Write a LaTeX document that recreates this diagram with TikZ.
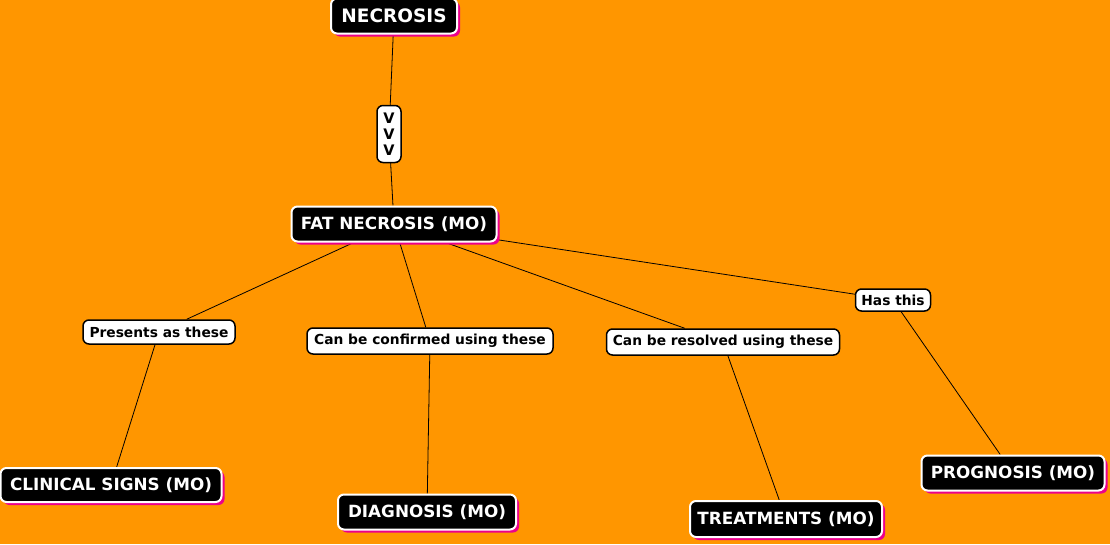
\documentclass[tikz,border=0pt]{standalone}
\usepackage{fontspec}
\setmainfont{DejaVu Sans}
\usetikzlibrary{shadows, backgrounds}

\begin{document}
\begin{tikzpicture}[x=1pt, y=-1pt,
	concept/.style={draw=white, fill=black, text=white, line width=2pt, rounded corners=6pt, minimum height=35pt, inner sep=0pt, font=\fontsize{16.8}{18}\selectfont\bfseries, drop shadow={shadow xshift=3pt, shadow yshift=-3pt, fill=magenta, opacity=1}},
	link/.style={draw=black, fill=white, text=black, line width=1.5pt, rounded corners=6pt, minimum height=24pt, inner sep=0pt, font=\fontsize{13.8}{15}\selectfont\bfseries},
	wire/.style={line width=0.8pt, black}]
					\useasboundingbox (0,0) rectangle (1110,544);
					
					\node[concept, minimum width=126pt, font=\fontsize{18.5}{20}\selectfont\bfseries] (necrosis) at (394,16) {NECROSIS};
					\node[link, minimum width=24pt, minimum height=57pt, align=center, font=\fontsize{14.5}{16}\selectfont\bfseries] (vvv) at (389,134) {V\\V\\V};
					\node[concept, minimum width=205pt] (fat) at (394,224) {FAT NECROSIS (MO)};
					
					\node[link, minimum width=152pt] (presents) at (159,332) {Presents as these};
					\node[link, minimum width=246pt, minimum height=26pt] (confirmed) at (430,341) {Can be confirmed using these};
					\node[link, minimum width=233pt, minimum height=26pt] (resolved) at (723,342) {Can be resolved using these};
					\node[link, minimum width=75pt, minimum height=22pt] (hasthis) at (893,300) {Has this};
					
					\node[concept, minimum width=221pt, minimum height=34pt] (clinical) at (111,485) {CLINICAL SIGNS (MO)};
					\node[concept, minimum width=178pt] (diagnosis) at (427,512) {DIAGNOSIS (MO)};
					\node[concept, minimum width=192pt, minimum height=36pt] (treatments) at (786,519) {TREATMENTS (MO)};
					\node[concept, minimum width=183pt] (prognosis) at (1013,473) {PROGNOSIS (MO)};
					
					\begin{scope}[on background layer]
					\fill[fill={rgb,255:red,255;green,150;blue,0}] (0,0) rectangle (1110,544);
					\draw[wire] (necrosis) -- (vvv);
					\draw[wire] (vvv) -- (fat);
					\draw[wire] (fat) -- (presents);
					\draw[wire] (fat) -- (confirmed);
					\draw[wire] (fat) -- (resolved);
					\draw[wire] (fat) -- (hasthis);
					\draw[wire] (presents) -- (clinical);
					\draw[wire] (confirmed) -- (diagnosis);
					\draw[wire] (resolved) -- (treatments);
					\draw[wire] (hasthis) -- (prognosis);
					\end{scope}
				\end{tikzpicture}
\end{document}
